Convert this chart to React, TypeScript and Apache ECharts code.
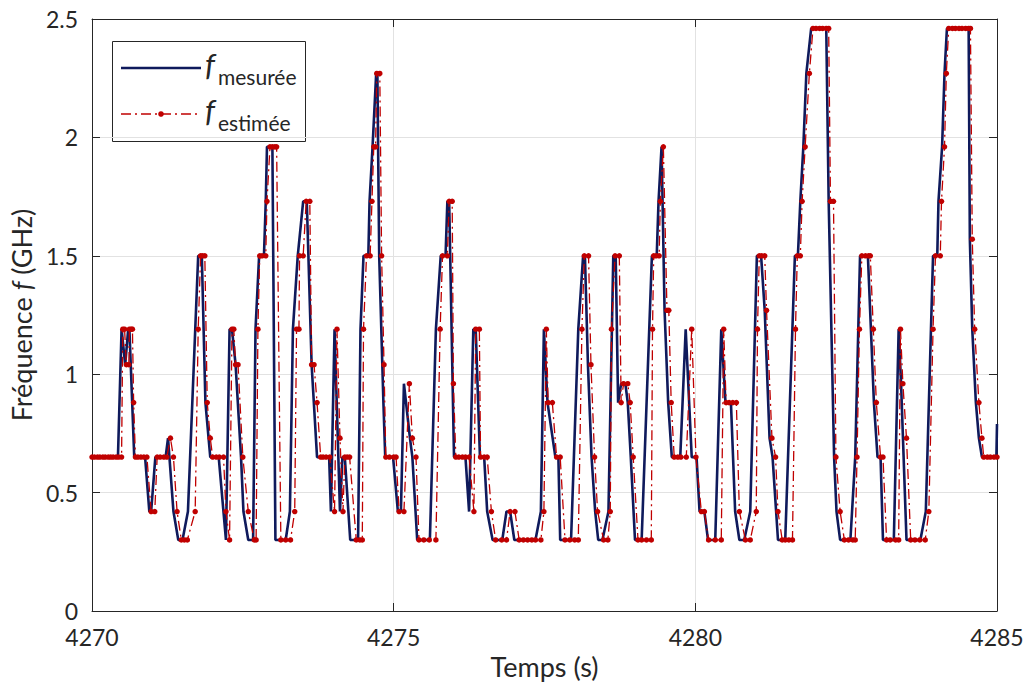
import React, { useEffect, useRef } from "react";
import * as echarts from "echarts";

// Measured CPU frequency (GHz) vs time (s)
const measured: [number, number][] = [
  [4270.00,0.65],[4270.43,0.65],[4270.49,1.19],[4270.55,1.04],[4270.60,1.19],[4270.62,1.19],[4270.70,0.65],[4270.88,0.65],
  [4270.95,0.42],[4270.98,0.42],[4271.05,0.65],[4271.22,0.65],[4271.26,0.73],[4271.35,0.42],[4271.43,0.3],[4271.50,0.3],
  [4271.59,0.42],[4271.76,1.5],[4271.82,1.5],[4271.88,0.88],[4271.96,0.65],[4272.10,0.65],[4272.22,0.3],[4272.28,1.19],
  [4272.32,1.19],[4272.38,1.04],[4272.47,0.65],[4272.51,0.42],[4272.59,0.3],[4272.67,0.3],[4272.71,1.19],[4272.77,1.5],
  [4272.85,1.5],[4272.88,1.73],[4272.90,1.96],[4272.99,1.96],[4273.04,0.3],[4273.21,0.3],[4273.28,0.42],[4273.33,1.19],
  [4273.41,1.5],[4273.50,1.73],[4273.56,1.73],[4273.64,1.04],[4273.73,0.65],[4273.93,0.65],[4273.96,0.42],[4274.02,1.19],
  [4274.11,0.42],[4274.15,0.65],[4274.19,0.65],[4274.28,0.3],[4274.41,0.3],[4274.45,1.19],[4274.50,1.5],[4274.58,1.5],
  [4274.60,1.73],[4274.65,1.96],[4274.71,2.27],[4274.73,2.27],[4274.76,1.5],[4274.83,0.88],[4274.86,0.65],[4274.99,0.65],
  [4275.07,0.42],[4275.12,0.42],[4275.17,0.96],[4275.27,0.73],[4275.31,0.65],[4275.39,0.3],[4275.60,0.3],[4275.70,1.19],
  [4275.78,1.5],[4275.86,1.5],[4275.89,1.73],[4275.92,1.73],[4276.00,0.65],[4276.19,0.65],[4276.25,0.42],[4276.32,1.19],
  [4276.36,1.19],[4276.43,0.65],[4276.50,0.65],[4276.55,0.42],[4276.64,0.3],[4276.80,0.3],[4276.87,0.42],[4276.93,0.42],
  [4277.00,0.3],[4277.35,0.3],[4277.44,0.42],[4277.49,1.19],[4277.55,0.88],[4277.68,0.65],[4277.73,0.65],[4277.76,0.3],
  [4277.94,0.3],[4278.06,1.19],[4278.14,1.5],[4278.17,1.5],[4278.22,1.04],[4278.28,0.65],[4278.34,0.42],[4278.39,0.3],
  [4278.46,0.3],[4278.56,0.42],[4278.64,1.5],[4278.68,1.5],[4278.72,0.88],[4278.77,0.96],[4278.84,0.96],[4278.88,0.88],
  [4278.93,0.65],[4279.00,0.3],[4279.11,0.3],[4279.28,1.5],[4279.36,1.5],[4279.39,1.73],[4279.44,1.96],[4279.49,1.27],
  [4279.55,0.88],[4279.61,0.65],[4279.75,0.65],[4279.84,1.19],[4279.94,0.65],[4280.02,0.65],[4280.07,0.42],[4280.15,0.42],
  [4280.21,0.3],[4280.33,0.3],[4280.43,1.19],[4280.50,0.88],[4280.59,0.88],[4280.66,0.42],[4280.73,0.3],[4280.81,0.3],
  [4280.91,0.42],[4281.02,1.5],[4281.09,1.5],[4281.15,1.27],[4281.23,0.73],[4281.28,0.65],[4281.37,0.3],[4281.49,0.3],
  [4281.65,1.5],[4281.70,1.5],[4281.74,1.73],[4281.79,1.96],[4281.84,2.27],[4281.92,2.46],[4282.17,2.46],[4282.21,1.73],
  [4282.30,0.65],[4282.34,0.42],[4282.40,0.3],[4282.57,0.3],[4282.65,0.65],[4282.73,1.5],[4282.86,1.5],[4282.91,1.19],
  [4282.96,0.88],[4283.02,0.65],[4283.07,0.65],[4283.11,0.3],[4283.29,0.3],[4283.37,1.19],[4283.41,0.96],[4283.50,0.3],
  [4283.73,0.3],[4283.82,0.42],[4283.94,1.5],[4284.01,1.5],[4284.03,1.73],[4284.09,1.96],[4284.13,2.27],[4284.17,2.46],
  [4284.53,2.46],[4284.55,1.57],[4284.59,1.19],[4284.65,0.88],[4284.70,0.73],[4284.75,0.65],[4284.99,0.65],[4285.00,0.79]
];

// Estimated CPU frequency (GHz) vs time (s)
const estimated: [number, number][] = [
  [4270.00,0.65],[4270.04,0.65],[4270.09,0.65],[4270.13,0.65],[4270.18,0.65],[4270.22,0.65],[4270.27,0.65],[4270.31,0.65],
  [4270.35,0.65],[4270.40,0.65],[4270.44,0.65],[4270.49,0.65],[4270.51,1.19],[4270.54,1.19],[4270.57,1.04],[4270.61,1.04],
  [4270.62,1.19],[4270.65,1.19],[4270.67,1.19],[4270.69,0.88],[4270.72,0.65],[4270.76,0.65],[4270.81,0.65],[4270.86,0.65],
  [4270.91,0.65],[4270.98,0.42],[4271.04,0.42],[4271.08,0.65],[4271.13,0.65],[4271.19,0.65],[4271.24,0.65],[4271.30,0.73],
  [4271.35,0.65],[4271.41,0.42],[4271.48,0.3],[4271.53,0.3],[4271.58,0.3],[4271.71,0.42],[4271.76,1.19],[4271.80,1.5],
  [4271.83,1.5],[4271.87,1.5],[4271.91,0.88],[4271.96,0.73],[4272.00,0.65],[4272.06,0.65],[4272.11,0.65],[4272.18,0.65],
  [4272.22,0.42],[4272.28,0.3],[4272.32,1.19],[4272.35,1.19],[4272.38,1.04],[4272.42,1.04],[4272.50,0.65],[4272.59,0.42],
  [4272.69,0.3],[4272.72,0.3],[4272.75,1.19],[4272.78,1.5],[4272.82,1.5],[4272.88,1.5],[4272.90,1.73],[4272.95,1.96],
  [4272.99,1.96],[4273.03,1.96],[4273.06,1.96],[4273.13,0.3],[4273.21,0.3],[4273.29,0.3],[4273.36,0.42],[4273.39,1.19],
  [4273.43,1.19],[4273.44,1.5],[4273.50,1.5],[4273.55,1.73],[4273.61,1.73],[4273.64,1.04],[4273.68,1.04],[4273.73,0.88],
  [4273.79,0.65],[4273.83,0.65],[4273.88,0.65],[4273.94,0.65],[4274.02,0.42],[4274.06,1.19],[4274.11,0.73],[4274.16,0.42],
  [4274.19,0.65],[4274.23,0.65],[4274.27,0.65],[4274.38,0.3],[4274.44,0.3],[4274.48,0.3],[4274.50,1.19],[4274.55,1.5],
  [4274.61,1.5],[4274.64,1.73],[4274.67,1.96],[4274.70,1.96],[4274.72,2.27],[4274.77,2.27],[4274.80,1.5],[4274.84,1.04],
  [4274.87,0.65],[4274.93,0.65],[4275.00,0.65],[4275.04,0.65],[4275.09,0.42],[4275.17,0.42],[4275.26,0.96],[4275.31,0.73],
  [4275.37,0.65],[4275.42,0.3],[4275.50,0.3],[4275.59,0.3],[4275.70,0.3],[4275.77,1.19],[4275.81,1.5],[4275.89,1.5],
  [4275.92,1.73],[4275.97,1.73],[4275.99,0.96],[4276.03,0.65],[4276.08,0.65],[4276.14,0.65],[4276.19,0.65],[4276.25,0.65],
  [4276.33,0.42],[4276.36,1.19],[4276.42,1.19],[4276.44,0.65],[4276.50,0.65],[4276.55,0.65],[4276.62,0.42],[4276.69,0.3],
  [4276.79,0.3],[4276.87,0.3],[4276.93,0.42],[4277.01,0.42],[4277.08,0.3],[4277.15,0.3],[4277.22,0.3],[4277.29,0.3],
  [4277.35,0.3],[4277.44,0.3],[4277.49,0.42],[4277.53,1.19],[4277.56,0.88],[4277.63,0.88],[4277.70,0.65],[4277.76,0.65],
  [4277.84,0.3],[4277.92,0.3],[4278.00,0.3],[4278.06,0.3],[4278.12,1.19],[4278.16,1.5],[4278.23,1.5],[4278.27,1.04],
  [4278.33,0.65],[4278.38,0.42],[4278.48,0.3],[4278.55,0.3],[4278.59,0.42],[4278.61,1.19],[4278.67,1.5],[4278.74,1.5],
  [4278.77,0.88],[4278.81,0.96],[4278.88,0.96],[4278.92,0.88],[4278.97,0.65],[4279.05,0.3],[4279.11,0.3],[4279.19,0.3],
  [4279.27,0.3],[4279.29,1.19],[4279.31,1.5],[4279.35,1.5],[4279.40,1.5],[4279.42,1.73],[4279.47,1.96],[4279.53,1.27],
  [4279.56,1.27],[4279.60,0.88],[4279.65,0.65],[4279.71,0.65],[4279.76,0.65],[4279.85,0.65],[4279.94,1.19],[4280.01,0.65],
  [4280.10,0.42],[4280.15,0.42],[4280.22,0.3],[4280.33,0.3],[4280.43,0.3],[4280.47,1.19],[4280.51,0.88],[4280.56,0.88],
  [4280.62,0.88],[4280.68,0.88],[4280.73,0.42],[4280.83,0.3],[4280.91,0.3],[4281.01,0.42],[4281.03,1.19],[4281.06,1.5],
  [4281.10,1.5],[4281.15,1.5],[4281.18,1.27],[4281.27,0.73],[4281.33,0.65],[4281.37,0.42],[4281.44,0.3],[4281.49,0.3],
  [4281.55,0.3],[4281.61,0.3],[4281.66,1.19],[4281.69,1.5],[4281.74,1.5],[4281.77,1.73],[4281.82,1.96],[4281.89,2.27],
  [4281.95,2.46],[4282.00,2.46],[4282.06,2.46],[4282.11,2.46],[4282.17,2.46],[4282.21,2.46],[4282.24,1.73],[4282.29,1.73],
  [4282.33,0.65],[4282.40,0.42],[4282.47,0.3],[4282.54,0.3],[4282.61,0.3],[4282.65,0.3],[4282.68,0.65],[4282.72,1.19],
  [4282.76,1.5],[4282.82,1.5],[4282.87,1.5],[4282.90,1.5],[4282.95,1.19],[4283.00,0.88],[4283.07,0.65],[4283.11,0.65],
  [4283.17,0.3],[4283.23,0.3],[4283.32,0.3],[4283.37,0.3],[4283.40,1.19],[4283.44,0.96],[4283.50,0.73],[4283.57,0.3],
  [4283.64,0.3],[4283.72,0.3],[4283.81,0.3],[4283.87,0.42],[4283.94,1.19],[4283.98,1.5],[4284.06,1.5],[4284.08,1.73],
  [4284.13,1.96],[4284.16,2.27],[4284.20,2.46],[4284.26,2.46],[4284.31,2.46],[4284.37,2.46],[4284.42,2.46],[4284.48,2.46],
  [4284.53,2.46],[4284.56,2.46],[4284.59,1.57],[4284.63,1.19],[4284.70,0.88],[4284.75,0.73],[4284.78,0.65],[4284.84,0.65],
  [4284.89,0.65],[4284.95,0.65],[4285.00,0.65]
];

const xRange = [4270, 4285];
const yRange = [0, 2.5];
const seriesNames = ["f mesurée", "f estimée"];

const FONT = "Lato, 'Open Sans', sans-serif";
const NAVY = "#0f1a5c";
const RED = "#c00000";
const AXIS = "#262626";
const DASHDOT = [10, 4, 2, 4];

export default function App() {
  const ref = useRef<HTMLDivElement>(null);
  useEffect(() => {
    if (!ref.current) return;
    const chart = echarts.init(ref.current, undefined, { renderer: "svg" });
    const tickStyle = { color: AXIS, width: 1 };
    chart.setOption({
      animation: false,
      backgroundColor: "#ffffff",
      textStyle: { fontFamily: FONT },
      grid: { left: 92, right: 30, top: 19, bottom: 75 },
      xAxis: [
        {
          type: "value", min: xRange[0], max: xRange[1], interval: 5, position: "bottom",
          axisLine: { show: true, onZero: false, lineStyle: tickStyle },
          axisTick: { show: true, inside: true, length: 8, lineStyle: tickStyle },
          axisLabel: { fontFamily: FONT, fontSize: 23, lineHeight: 18, color: AXIS, margin: 17, formatter: (v: number) => String(v) },
          splitLine: { show: true, lineStyle: { color: "#e2e2e2", width: 1 } },
          name: "Temps (s)", nameLocation: "middle", nameGap: 42,
          nameTextStyle: { fontFamily: FONT, fontSize: 27, color: AXIS },
        },
        {
          type: "value", min: xRange[0], max: xRange[1], interval: 5, position: "top",
          axisLine: { show: true, onZero: false, lineStyle: tickStyle },
          axisTick: { show: true, inside: true, length: 8, lineStyle: tickStyle },
          axisLabel: { show: false }, splitLine: { show: false },
        },
      ],
      yAxis: [
        {
          type: "value", min: yRange[0], max: yRange[1], interval: 0.5, position: "left",
          axisLine: { show: true, onZero: false, lineStyle: tickStyle },
          axisTick: { show: true, inside: true, length: 8, lineStyle: tickStyle },
          axisLabel: { fontFamily: FONT, fontSize: 23, lineHeight: 18, color: AXIS, margin: 14 },
          splitLine: { show: true, lineStyle: { color: "#e2e2e2", width: 1 } },
          name: "{a|Fréquence }{i|f}{a| (GHz)}", nameLocation: "middle", nameGap: 52,
          nameTextStyle: {
            fontFamily: FONT, fontSize: 27, color: AXIS,
            rich: {
              a: { fontFamily: FONT, fontSize: 27, color: AXIS },
              i: { fontFamily: FONT, fontSize: 27, color: AXIS, fontStyle: "italic" },
            },
          },
        },
        {
          type: "value", min: yRange[0], max: yRange[1], interval: 0.5, position: "right",
          axisLine: { show: true, onZero: false, lineStyle: tickStyle },
          axisTick: { show: true, inside: true, length: 8, lineStyle: tickStyle },
          axisLabel: { show: false }, splitLine: { show: false },
        },
      ],
      series: [
        {
          name: seriesNames[0], type: "line", data: measured, xAxisIndex: 0, yAxisIndex: 0,
          showSymbol: false, symbol: "none", clip: true,
          lineStyle: { color: NAVY, width: 2.6 }, itemStyle: { color: NAVY }, z: 2,
        },
        {
          name: seriesNames[1], type: "line", data: estimated, xAxisIndex: 0, yAxisIndex: 0,
          showSymbol: true, showAllSymbol: true, symbol: "circle", symbolSize: 5.5, clip: false,
          lineStyle: { color: RED, width: 1.3, type: DASHDOT }, itemStyle: { color: RED }, z: 3,
        },
      ],
      graphic: [
        {
          type: "group", z: 100,
          children: [
            { type: "rect", shape: { x: 112.5, y: 41.5, width: 193, height: 100 }, style: { fill: "#ffffff", stroke: AXIS, lineWidth: 1 } },
            { type: "line", shape: { x1: 121, y1: 68, x2: 201, y2: 68 }, style: { stroke: NAVY, lineWidth: 2.6 } },
            { type: "text", x: 205, y: 64, style: { text: "f", font: `italic 31px ${FONT}`, fill: AXIS, verticalAlign: "middle" } },
            { type: "text", x: 218, y: 76, style: { text: "mesurée", font: `21px ${FONT}`, fill: AXIS, verticalAlign: "middle" } },
            { type: "line", shape: { x1: 121, y1: 114, x2: 201, y2: 114 }, style: { stroke: RED, lineWidth: 1.3, lineDash: DASHDOT } },
            { type: "circle", shape: { cx: 161, cy: 114, r: 2.8 }, style: { fill: RED } },
            { type: "text", x: 205, y: 110, style: { text: "f", font: `italic 31px ${FONT}`, fill: AXIS, verticalAlign: "middle" } },
            { type: "text", x: 218, y: 122, style: { text: "estimée", font: `21px ${FONT}`, fill: AXIS, verticalAlign: "middle" } },
          ],
        },
      ],
    });
    return () => chart.dispose();
  }, []);
  return (
    <div
      ref={ref}
      style={{ position: "fixed", left: 0, top: 0, width: 1027, height: 686, background: "#fff" }}
    />
  );
}
